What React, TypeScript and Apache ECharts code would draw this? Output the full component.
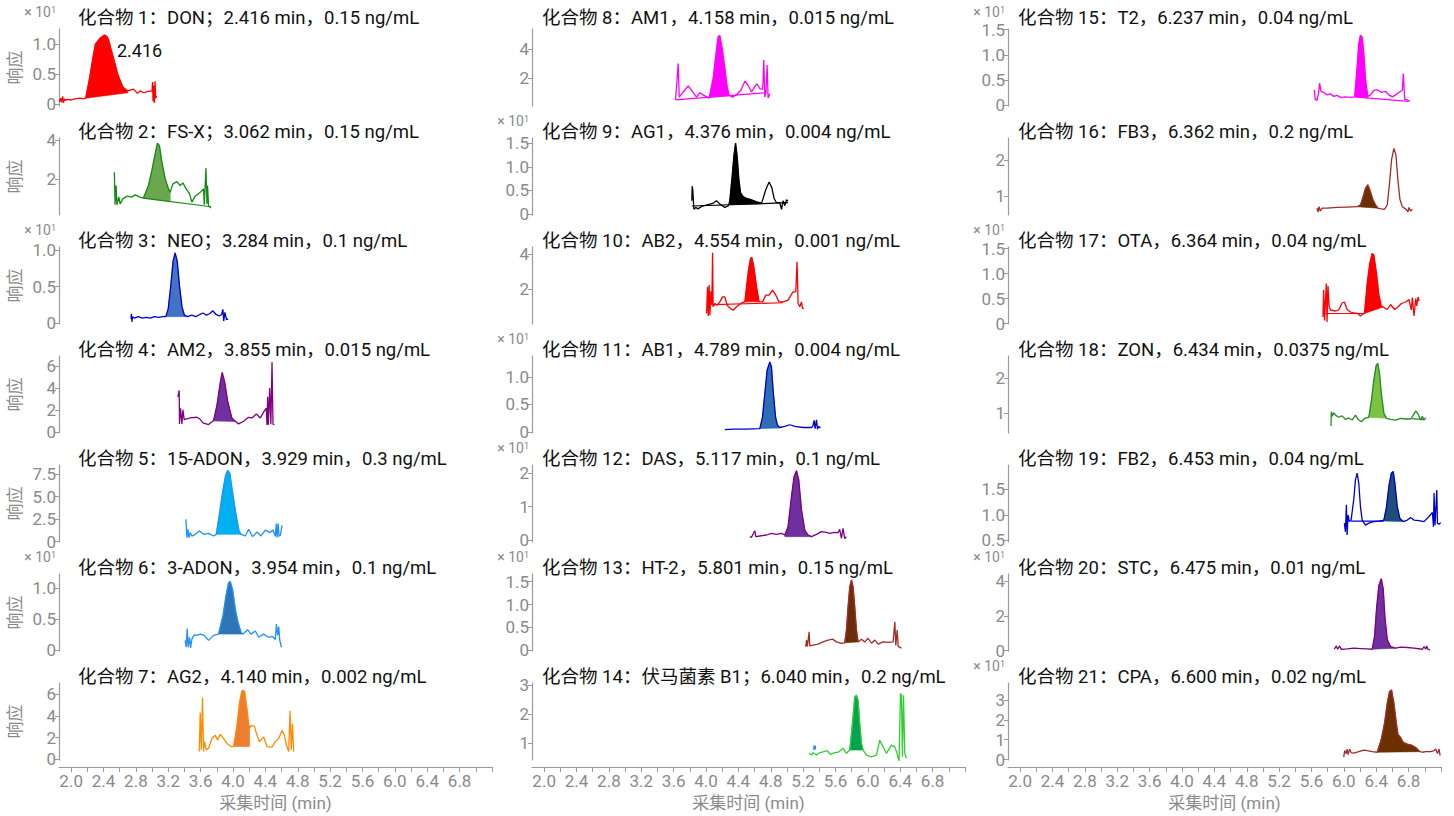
import { useEffect, useRef } from 'react';
import * as echarts from 'echarts';

type Pt = [number, number];

// ---------- traces (time in min, response as shown on each axis) ----------
const p1Trace: Pt[] = [[1.854,0.04],[1.87,0.10],[1.88,0.03],[1.895,0.13],[1.905,0.02],[1.915,0.09],[1.93,0.06],[1.95,0.08],[2.0,0.07],[2.05,0.09],[2.11,0.10],[2.15,0.09],[2.18,0.10],[2.23,0.45],[2.27,0.78],[2.30,1.00],[2.36,1.10],[2.41,1.15],[2.44,1.13],[2.46,1.08],[2.52,0.78],[2.58,0.48],[2.64,0.28],[2.70,0.22],[2.77,0.25],[2.82,0.18],[2.85,0.22],[2.90,0.19],[2.94,0.21],[3.00,0.22],[3.006,0.37],[3.012,0.05],[3.02,0.31],[3.028,0.02],[3.036,0.38],[3.045,0.10],[3.055,0.14]];
const p2Trace: Pt[] = [[2.534,2.35],[2.543,0.65],[2.556,1.65],[2.566,0.65],[2.589,1.06],[2.605,0.70],[2.638,0.96],[2.688,1.10],[2.75,1.05],[2.79,1.17],[2.85,1.05],[2.893,1.0],[2.955,1.65],[2.997,2.43],[3.038,3.30],[3.067,3.86],[3.091,3.73],[3.121,2.87],[3.162,2.0],[3.203,1.48],[3.224,1.30],[3.257,1.74],[3.307,1.86],[3.347,1.65],[3.381,1.79],[3.422,1.48],[3.463,1.22],[3.492,0.79],[3.533,1.10],[3.595,1.30],[3.636,1.48],[3.645,0.65],[3.666,2.56],[3.678,0.70],[3.685,1.65],[3.698,0.60],[3.727,0.49]];
const p3Trace: Pt[] = [[2.74,0.06],[2.745,0.13],[2.752,0.02],[2.76,0.09],[2.78,0.07],[2.83,0.09],[2.88,0.07],[2.93,0.08],[2.98,0.07],[3.03,0.09],[3.08,0.08],[3.13,0.09],[3.17,0.09],[3.20,0.2],[3.23,0.5],[3.26,0.85],[3.285,0.96],[3.31,0.85],[3.34,0.5],[3.37,0.22],[3.40,0.11],[3.44,0.09],[3.49,0.11],[3.54,0.09],[3.59,0.12],[3.63,0.14],[3.67,0.11],[3.71,0.13],[3.75,0.17],[3.79,0.12],[3.83,0.10],[3.86,0.12],[3.875,0.19],[3.885,0.03],[3.90,0.15],[3.92,0.05],[3.94,0.06]];
const p4Trace: Pt[] = [[3.319,3.19],[3.335,3.77],[3.339,0.73],[3.351,2.15],[3.369,0.73],[3.381,2.0],[3.397,1.12],[3.471,1.27],[3.554,1.33],[3.586,1.20],[3.628,0.82],[3.698,0.67],[3.76,1.03],[3.802,2.44],[3.843,4.50],[3.866,5.40],[3.898,4.50],[3.935,2.74],[3.985,1.27],[4.028,0.97],[4.069,0.73],[4.131,0.97],[4.193,1.33],[4.235,1.27],[4.288,1.62],[4.338,1.27],[4.387,1.91],[4.412,2.15],[4.42,0.62],[4.428,3.19],[4.437,0.65],[4.453,3.98],[4.468,0.70],[4.482,6.34],[4.494,0.70],[4.511,0.67]];
const p5Trace: Pt[] = [[3.418,2.46],[3.43,0.44],[3.443,1.36],[3.455,0.44],[3.471,0.99],[3.492,0.60],[3.533,0.80],[3.583,1.17],[3.636,0.80],[3.698,0.91],[3.76,0.62],[3.793,0.80],[3.835,3.2],[3.87,5.4],[3.91,7.42],[3.935,7.9],[3.96,7.6],[3.995,5.4],[4.04,2.82],[4.075,1.17],[4.099,0.80],[4.152,0.62],[4.193,1.36],[4.242,0.55],[4.297,1.06],[4.346,0.62],[4.40,1.28],[4.452,0.99],[4.494,1.28],[4.523,0.58],[4.535,2.0],[4.544,0.44],[4.557,2.0],[4.569,0.58],[4.585,0.7],[4.606,1.8]];
const p6Trace: Pt[] = [[3.409,0.16],[3.422,0.05],[3.434,0.35],[3.446,0.05],[3.463,0.21],[3.475,0.04],[3.492,0.18],[3.521,0.25],[3.554,0.24],[3.595,0.26],[3.645,0.24],[3.698,0.16],[3.76,0.24],[3.821,0.26],[3.876,0.55],[3.913,0.87],[3.945,1.08],[3.966,1.10],[3.995,0.97],[4.028,0.66],[4.061,0.45],[4.099,0.29],[4.123,0.26],[4.18,0.33],[4.222,0.26],[4.276,0.31],[4.317,0.21],[4.379,0.26],[4.44,0.21],[4.494,0.22],[4.523,0.17],[4.536,0.42],[4.552,0.24],[4.565,0.38],[4.577,0.17],[4.598,0.05]];
const p7Trace: Pt[] = [[3.583,0.73],[3.595,4.30],[3.608,0.90],[3.623,5.64],[3.636,0.73],[3.648,1.63],[3.669,0.88],[3.698,1.03],[3.74,1.92],[3.781,2.21],[3.809,1.77],[3.843,2.30],[3.883,1.92],[3.925,1.47],[3.975,1.18],[4.007,1.18],[4.049,3.10],[4.081,5.20],[4.111,6.32],[4.143,6.23],[4.173,4.60],[4.193,3.2],[4.21,2.9],[4.222,3.10],[4.263,3.05],[4.297,2.21],[4.329,1.63],[4.379,2.07],[4.42,1.18],[4.482,1.12],[4.523,1.63],[4.564,1.92],[4.606,2.66],[4.635,2.21],[4.659,1.32],[4.688,0.73],[4.705,4.45],[4.72,0.90],[4.734,3.26],[4.75,0.73]];
const p8Trace: Pt[] = [[3.624,0.48],[3.656,3.0],[3.669,0.67],[3.718,1.02],[3.78,1.44],[3.822,1.14],[3.883,0.67],[3.924,0.97],[3.973,0.79],[4.039,0.60],[4.088,1.95],[4.122,3.59],[4.15,4.88],[4.171,4.95],[4.199,4.06],[4.233,2.65],[4.261,1.37],[4.286,0.79],[4.328,0.67],[4.377,0.83],[4.43,1.14],[4.48,1.77],[4.52,1.49],[4.562,1.02],[4.591,1.30],[4.631,1.60],[4.665,1.25],[4.698,1.20],[4.706,1.84],[4.714,3.24],[4.727,0.67],[4.74,1.0],[4.755,2.89],[4.767,0.60],[4.788,0.90]];
const p9Trace: Pt[] = [[3.825,0.28],[3.829,0.59],[3.837,0.50],[3.85,0.10],[3.875,0.14],[3.90,0.11],[3.945,0.16],[4.048,0.21],[4.088,0.23],[4.13,0.28],[4.171,0.21],[4.233,0.14],[4.274,0.17],[4.294,0.28],[4.323,0.80],[4.344,1.22],[4.365,1.50],[4.385,1.22],[4.406,0.73],[4.427,0.45],[4.459,0.37],[4.501,0.33],[4.562,0.30],[4.624,0.26],[4.686,0.23],[4.705,0.33],[4.739,0.52],[4.78,0.68],[4.813,0.56],[4.841,0.33],[4.871,0.24],[4.912,0.24],[4.933,0.10],[4.952,0.28],[4.973,0.18],[4.994,0.30],[5.014,0.28]];
const p10Trace: Pt[] = [[4.007,0.64],[4.019,2.15],[4.028,0.50],[4.039,2.25],[4.048,0.55],[4.06,1.9],[4.072,1.11],[4.081,4.07],[4.088,1.02],[4.109,1.21],[4.138,1.11],[4.171,1.30],[4.204,1.58],[4.233,1.58],[4.261,1.11],[4.303,0.92],[4.335,0.83],[4.377,1.02],[4.439,1.24],[4.48,1.30],[4.501,2.15],[4.525,3.09],[4.55,3.76],[4.566,3.81],[4.591,3.28],[4.624,2.15],[4.656,1.30],[4.698,1.30],[4.739,1.68],[4.78,1.68],[4.822,1.96],[4.862,1.68],[4.903,1.30],[4.952,1.30],[5.014,1.40],[5.076,1.87],[5.109,1.87],[5.125,3.56],[5.138,1.21],[5.159,1.02],[5.18,1.3],[5.191,0.95],[5.208,0.92]];
const p11Trace: Pt[] = [[4.233,0.04],[4.335,0.05],[4.501,0.05],[4.665,0.06],[4.698,0.27],[4.727,0.70],[4.755,1.12],[4.788,1.27],[4.809,1.18],[4.829,0.76],[4.859,0.27],[4.883,0.12],[4.912,0.08],[4.974,0.10],[5.035,0.13],[5.097,0.10],[5.2,0.08],[5.303,0.08],[5.319,0.10],[5.336,0.21],[5.348,0.06],[5.365,0.22],[5.377,0.05],[5.393,0.10],[5.414,0.07]];
const p12Trace: Pt[] = [[4.541,0.10],[4.562,0.08],[4.603,0.28],[4.615,0.10],[4.665,0.12],[4.748,0.15],[4.809,0.20],[4.871,0.17],[4.933,0.20],[4.974,0.15],[5.014,0.40],[5.056,1.30],[5.088,1.90],[5.118,2.08],[5.146,1.80],[5.18,0.90],[5.22,0.30],[5.261,0.15],[5.303,0.10],[5.365,0.17],[5.427,0.25],[5.488,0.23],[5.529,0.20],[5.591,0.23],[5.632,0.22],[5.652,0.32],[5.673,0.05],[5.693,0.35],[5.714,0.04],[5.735,0.10]];
const p13Trace: Pt[] = [[5.233,0.07],[5.241,0.22],[5.253,0.08],[5.274,0.40],[5.282,0.09],[5.323,0.11],[5.385,0.13],[5.446,0.18],[5.508,0.22],[5.563,0.24],[5.612,0.18],[5.674,0.15],[5.714,0.16],[5.735,0.44],[5.755,0.95],[5.776,1.39],[5.797,1.54],[5.817,1.39],[5.838,0.95],[5.859,0.44],[5.879,0.18],[5.921,0.24],[5.962,0.18],[6.003,0.26],[6.045,0.15],[6.086,0.22],[6.127,0.13],[6.188,0.18],[6.25,0.17],[6.312,0.18],[6.333,0.62],[6.345,0.10],[6.362,0.44],[6.374,0.08],[6.386,0.07],[6.416,0.04]];
const p14Trace: Pt[] = [[5.273,0.66],[5.303,0.60],[5.323,0.68],[5.365,0.60],[5.406,0.68],[5.446,0.71],[5.496,0.75],[5.538,0.62],[5.591,0.68],[5.644,0.71],[5.693,0.83],[5.735,0.66],[5.776,0.77],[5.809,1.68],[5.838,2.60],[5.859,2.65],[5.879,2.48],[5.90,1.68],[5.921,1.0],[5.941,0.77],[5.982,0.60],[6.044,0.54],[6.106,0.60],[6.147,1.11],[6.188,0.88],[6.229,0.66],[6.291,0.94],[6.332,0.88],[6.361,0.66],[6.385,0.37],[6.403,2.71],[6.415,2.65],[6.427,0.54],[6.44,2.65],[6.456,0.66],[6.476,0.49]];
const p14Extra: Pt[] = [[5.338,0.78],[5.342,0.92],[5.346,0.80]];
const p15Trace: Pt[] = [[5.634,0.31],[5.646,0.12],[5.667,0.10],[5.688,0.25],[5.70,0.44],[5.717,0.28],[5.75,0.26],[5.792,0.21],[5.833,0.23],[5.874,0.18],[5.916,0.20],[5.957,0.16],[6.019,0.17],[6.081,0.16],[6.134,0.17],[6.164,0.77],[6.184,1.22],[6.205,1.39],[6.226,1.35],[6.246,1.03],[6.267,0.51],[6.295,0.18],[6.329,0.21],[6.37,0.30],[6.412,0.31],[6.462,0.26],[6.515,0.28],[6.556,0.21],[6.598,0.17],[6.639,0.21],[6.701,0.28],[6.722,0.30],[6.735,0.63],[6.751,0.12],[6.776,0.12],[6.792,0.10],[6.817,0.08]];
const p16Trace: Pt[] = [[5.668,0.66],[5.68,0.55],[5.693,0.70],[5.709,0.58],[5.73,0.66],[5.792,0.66],[5.916,0.68],[6.04,0.69],[6.164,0.70],[6.205,0.75],[6.238,0.98],[6.267,1.21],[6.295,1.31],[6.32,1.17],[6.357,0.91],[6.391,0.75],[6.42,0.66],[6.462,0.64],[6.503,0.63],[6.536,0.75],[6.564,1.35],[6.589,2.0],[6.618,2.32],[6.643,2.14],[6.668,1.44],[6.692,0.91],[6.722,0.70],[6.763,0.64],[6.792,0.56],[6.804,0.68],[6.825,0.58],[6.846,0.63]];
const p17Trace: Pt[] = [[5.742,0.13],[5.75,0.67],[5.762,0.06],[5.775,0.55],[5.783,0.80],[5.792,0.03],[5.804,0.75],[5.817,0.35],[5.833,0.27],[5.895,0.25],[5.936,0.27],[5.978,0.41],[6.006,0.43],[6.04,0.28],[6.081,0.23],[6.122,0.21],[6.172,0.20],[6.205,0.15],[6.255,0.21],[6.288,0.80],[6.32,1.20],[6.35,1.40],[6.37,1.37],[6.403,1.00],[6.432,0.57],[6.462,0.35],[6.486,0.33],[6.536,0.28],[6.577,0.38],[6.627,0.28],[6.668,0.33],[6.71,0.40],[6.763,0.43],[6.804,0.48],[6.834,0.27],[6.846,0.52],[6.867,0.15],[6.888,0.50],[6.90,0.35],[6.916,0.53],[6.929,0.45]];
const p18Trace: Pt[] = [[5.841,0.64],[5.845,1.05],[5.857,0.92],[5.874,1.02],[5.895,0.95],[5.936,0.89],[5.978,0.93],[6.019,0.83],[6.06,0.87],[6.102,0.81],[6.143,0.95],[6.184,0.81],[6.217,0.76],[6.258,0.86],[6.308,0.89],[6.341,1.38],[6.37,1.95],[6.40,2.38],[6.419,2.43],[6.44,2.14],[6.465,1.52],[6.494,1.0],[6.527,0.86],[6.577,0.83],[6.639,0.81],[6.701,0.86],[6.763,0.84],[6.825,0.84],[6.858,0.95],[6.887,1.07],[6.916,0.98],[6.949,0.81],[6.97,0.92],[6.99,0.81],[7.011,0.88]];
const p19Trace: Pt[] = [[6.006,0.84],[6.019,0.67],[6.031,1.20],[6.04,0.61],[6.052,1.0],[6.068,0.87],[6.089,0.90],[6.122,1.30],[6.143,1.69],[6.164,1.82],[6.184,1.62],[6.205,1.16],[6.226,0.90],[6.267,0.80],[6.308,0.84],[6.37,0.87],[6.432,0.88],[6.494,0.90],[6.527,1.16],[6.556,1.56],[6.586,1.82],[6.61,1.85],[6.63,1.62],[6.66,1.16],[6.692,0.93],[6.735,0.87],[6.784,0.90],[6.825,0.95],[6.866,0.90],[6.928,0.89],[6.99,0.87],[7.052,0.97],[7.094,1.05],[7.107,0.77],[7.114,1.43],[7.126,0.80],[7.148,1.49],[7.156,0.84],[7.176,0.82],[7.197,0.85]];
const p20Trace: Pt[] = [[5.882,0.08],[5.907,0.27],[5.923,0.08],[5.948,0.27],[5.966,0.08],[6.04,0.10],[6.122,0.14],[6.205,0.12],[6.288,0.10],[6.35,0.08],[6.379,0.82],[6.403,2.38],[6.432,3.74],[6.462,4.13],[6.486,3.55],[6.506,1.99],[6.536,0.63],[6.577,0.23],[6.639,0.14],[6.701,0.20],[6.784,0.18],[6.866,0.14],[6.97,0.08],[6.99,0.23],[7.011,0.08],[7.023,0.27],[7.039,0.08],[7.064,0.04]];
const p21Trace: Pt[] = [[5.998,0.12],[6.01,0.45],[6.028,0.30],[6.04,0.53],[6.052,0.25],[6.072,0.53],[6.089,0.35],[6.122,0.32],[6.184,0.40],[6.246,0.48],[6.288,0.45],[6.35,0.40],[6.412,0.37],[6.462,1.02],[6.503,1.85],[6.536,2.84],[6.564,3.42],[6.589,3.50],[6.618,2.84],[6.648,1.85],[6.668,1.27],[6.701,1.11],[6.735,0.86],[6.784,0.78],[6.834,0.73],[6.887,0.61],[6.941,0.40],[6.97,0.37],[7.011,0.40],[7.073,0.40],[7.114,0.45],[7.135,0.53],[7.156,0.30],[7.176,0.53],[7.189,0.20]];

const traces: Pt[][] = [p1Trace,p2Trace,p3Trace,p4Trace,p5Trace,p6Trace,p7Trace,p8Trace,p9Trace,p10Trace,p11Trace,p12Trace,p13Trace,p14Trace,p15Trace,p16Trace,p17Trace,p18Trace,p19Trace,p20Trace,p21Trace];

// integrated peak: [start, end, baseline at start, baseline at end]
const peakFills: [number, number, number, number][] = [
  [2.18,2.70,0.10,0.19],[2.893,3.224,1.0,0.82],[3.17,3.42,0.09,0.09],[3.76,4.028,1.0,0.95],[3.80,4.10,0.8,0.8],[3.821,4.123,0.26,0.26],[4.007,4.205,1.18,1.18],
  [4.039,4.286,0.66,0.77],[4.294,4.686,0.2,0.22],[4.48,4.656,1.3,1.3],[4.665,4.912,0.06,0.07],[4.974,5.303,0.1,0.1],[5.714,5.879,0.16,0.18],[5.776,5.941,0.77,0.77],
  [6.134,6.295,0.17,0.15],[6.164,6.42,0.70,0.66],[6.255,6.486,0.2,0.33],[6.308,6.527,0.89,0.86],[6.494,6.735,0.88,0.87],[6.35,6.639,0.08,0.14],[6.412,6.941,0.37,0.40],
];

// drawn baselines (panel index, two end points)
const baseLines: [number, Pt, Pt][] = [
  [1,[2.893,1.0],[3.727,0.55]],
  [7,[3.624,0.48],[4.727,0.97]],
  [8,[3.825,0.17],[5.014,0.24]],
  [9,[4.088,1.15],[4.952,1.25]],
  [14,[6.134,0.17],[6.792,0.08]],
  [16,[5.76,0.2],[6.255,0.2]],
  [17,[6.84,0.85],[6.99,0.82]],
  [18,[6.089,0.88],[6.494,0.88]],
];

const titles = [
  '化合物 1：DON；2.416 min，0.15 ng/mL','化合物 2：FS-X；3.062 min，0.15 ng/mL','化合物 3：NEO；3.284 min，0.1 ng/mL','化合物 4：AM2，3.855 min，0.015 ng/mL','化合物 5：15-ADON，3.929 min，0.3 ng/mL','化合物 6：3-ADON，3.954 min，0.1 ng/mL','化合物 7：AG2，4.140 min，0.002 ng/mL',
  '化合物 8：AM1，4.158 min，0.015 ng/mL','化合物 9：AG1，4.376 min，0.004 ng/mL','化合物 10：AB2，4.554 min，0.001 ng/mL','化合物 11：AB1，4.789 min，0.004 ng/mL','化合物 12：DAS，5.117 min，0.1 ng/mL','化合物 13：HT-2，5.801 min，0.15 ng/mL','化合物 14：伏马菌素 B1；6.040 min，0.2 ng/mL',
  '化合物 15：T2，6.237 min，0.04 ng/mL','化合物 16：FB3，6.362 min，0.2 ng/mL','化合物 17：OTA，6.364 min，0.04 ng/mL','化合物 18：ZON，6.434 min，0.0375 ng/mL','化合物 19：FB2，6.453 min，0.04 ng/mL','化合物 20：STC，6.475 min，0.01 ng/mL','化合物 21：CPA，6.600 min，0.02 ng/mL',
];

const yMins = [-0.03,0.12,-0.01,-0.1,-0.05,-0.01,-0.05, 0.05,-0.02,0.05,-0.02,-0.06,-0.02,0.43, -0.01,0.47,-0.01,0.44,0.47,-0.02,-0.02];
const yMaxs = [1.25,4.13,1.04,6.9,8.5,1.22,7.0, 5.4,1.61,4.4,1.38,2.25,1.67,3.07, 1.51,2.61,1.53,2.64,1.98,4.4,3.85];
const yTicks: string[][] = [
  ['0','0.5','1.0'],['2','4'],['0','0.5','1.0'],['0','2','4','6'],['0','2.5','5.0','7.5'],['0','0.5','1.0'],['0','2','4','6'],
  ['2','4'],['0','0.5','1.0','1.5'],['2','4'],['0','0.5','1.0'],['0','1','2'],['0','0.5','1.0','1.5'],['1','2','3'],
  ['0','0.5','1.0','1.5'],['1','2'],['0','0.5','1.0','1.5'],['1','2'],['0.5','1.0','1.5'],['0','2','4'],['0','1','2','3'],
];
const times10 = [true,false,true,false,false,true,false, false,true,false,true,true,true,false, true,false,true,false,false,true,true];

const lineColors = ['#ff0000','#138a13','#0000cd','#800080','#1e90ff','#1e90ff','#ff8c00','#ff00ff','#000000','#ff0000','#0000cd','#800080','#a52a2a','#32cd32','#ff00ff','#a52a2a','#ff0000','#228b22','#0000cd','#800080','#a52a2a'];
const fillColors = ['#ff0000','#6aa84f','#4472c4','#7030a0','#00b0f0','#2e75b6','#ed7d31','#ff00ff','#000000','#ff0000','#2e6db4','#7030a0','#6b2c0a','#00a550','#ff00ff','#6b3000','#ff0000','#7cc242','#1f4e79','#7030a0','#6b3000'];

const xTickValues = [2.0,2.2,2.4,2.6,2.8,3.0,3.2,3.4,3.6,3.8,4.0,4.2,4.4,4.6,4.8,5.0,5.2,5.4,5.6,5.8,6.0,6.2,6.4,6.6,6.8,7.0,7.2];
const xLabelValues = [2.0,2.4,2.8,3.2,3.6,4.0,4.4,4.8,5.2,5.6,6.0,6.4,6.8];

const FONT = 'Roboto, "Noto Sans CJK SC", sans-serif';
const AXIS_COLOR = '#9a9a9a';
const LABEL_COLOR = '#8a8a8a';
const COL_LEFT = [59, 532, 1008];
const GRID_W = 433, GRID_H = 77, ROW0 = 29, ROW_H = 109;
const TITLE_Y = [18, 132, 241, 350, 459, 568, 677];

function interp(tr: Pt[], t: number): number {
  for (let k = 0; k < tr.length - 1; k++) {
    const a = tr[k], b = tr[k + 1];
    if (t >= a[0] && t <= b[0]) {
      const f = b[0] === a[0] ? 0 : (t - a[0]) / (b[0] - a[0]);
      return a[1] + f * (b[1] - a[1]);
    }
  }
  return tr[tr.length - 1][1];
}

function buildOption() {
  const grid: any[] = [], xAxis: any[] = [], yAxis: any[] = [], series: any[] = [], graphic: any[] = [];
  for (let i = 0; i < 21; i++) {
    const c = Math.floor(i / 7), r = i % 7;
    const left = COL_LEFT[c], top = ROW0 + ROW_H * r;
    const bottomRow = r === 6;
    grid.push({ left, top, width: GRID_W, height: GRID_H, containLabel: false });
    xAxis.push({
      type: 'value', gridIndex: i, min: 1.85, max: 7.2, show: bottomRow, offset: 7,
      axisLine: { show: true, onZero: false, lineStyle: { color: AXIS_COLOR, width: 1.2 } },
      axisTick: { show: true, length: 5, customValues: xTickValues, lineStyle: { color: AXIS_COLOR } },
      axisLabel: { customValues: xLabelValues, formatter: (v: number) => v.toFixed(1), color: LABEL_COLOR, fontSize: 17, fontFamily: FONT, margin: 5 },
      splitLine: { show: false },
      name: bottomRow ? '采集时间 (min)' : '', nameLocation: 'middle', nameGap: 27,
      nameTextStyle: { color: LABEL_COLOR, fontSize: 17, fontFamily: FONT },
    });
    const ticks = yTicks[i];
    const vals = ticks.map(Number);
    yAxis.push({
      type: 'value', gridIndex: i, min: yMins[i], max: yMaxs[i],
      axisLine: { show: true, onZero: false, lineStyle: { color: AXIS_COLOR, width: 1.2 } },
      axisTick: { show: true, length: 4, customValues: vals, lineStyle: { color: AXIS_COLOR } },
      axisLabel: {
        customValues: vals, color: LABEL_COLOR, fontSize: 17, fontFamily: FONT, margin: 3,
        formatter: (v: number) => { const k = vals.findIndex((x) => Math.abs(x - v) < 1e-6); return k >= 0 ? ticks[k] : ''; },
      },
      splitLine: { show: false },
    });
    const tr = traces[i];
    const [a, b, va, vb] = peakFills[i];
    const poly: Pt[] = [[a, interp(tr, a)]];
    tr.forEach((p) => { if (p[0] > a && p[0] < b) poly.push(p); });
    poly.push([b, interp(tr, b)], [b, vb], [a, va]);
    const fc = fillColors[i];
    series.push({
      type: 'custom', coordinateSystem: 'cartesian2d', xAxisIndex: i, yAxisIndex: i, silent: true, z: 2,
      data: [[a, va]],
      renderItem: (_p: any, api: any) => ({
        type: 'polygon',
        shape: { points: poly.map((pt) => api.coord(pt)) },
        style: { fill: fc, stroke: fc, lineWidth: 0.6 },
      }),
    });
    series.push({
      type: 'line', xAxisIndex: i, yAxisIndex: i, data: tr, showSymbol: false, symbol: 'none', silent: true, z: 3,
      lineStyle: { color: lineColors[i], width: 1.3 }, itemStyle: { color: lineColors[i] },
    });
    baseLines.filter((bl) => bl[0] === i).forEach((bl) => {
      series.push({
        type: 'line', xAxisIndex: i, yAxisIndex: i, data: [bl[1], bl[2]], showSymbol: false, symbol: 'none', silent: true, z: 3,
        lineStyle: { color: lineColors[i], width: 1.2 },
      });
    });
    if (i === 13) {
      series.push({
        type: 'line', xAxisIndex: i, yAxisIndex: i, data: p14Extra, showSymbol: false, symbol: 'none', silent: true, z: 4,
        lineStyle: { color: '#1e90ff', width: 2.5 },
      });
    }
    graphic.push({
      type: 'text', x: c === 0 ? 78 : left + 10, y: TITLE_Y[r], silent: true,
      style: { text: titles[i], fill: '#111', fontSize: 18.5, fontFamily: FONT, align: 'left', verticalAlign: 'middle' },
    });
    if (times10[i]) {
      graphic.push({
        type: 'text', x: left - 3, y: top - 17, silent: true,
        style: {
          text: '× 10{s|1}', fill: LABEL_COLOR, fontSize: 14, fontFamily: FONT, align: 'right', verticalAlign: 'middle',
          rich: { s: { fontSize: 9, verticalAlign: 'top', fill: LABEL_COLOR, fontFamily: FONT } },
        },
      });
    }
    if (c === 0) {
      graphic.push({
        type: 'text', x: 15, y: top + GRID_H / 2, rotation: Math.PI / 2, silent: true,
        style: { text: '响应', fill: LABEL_COLOR, fontSize: 17, fontFamily: FONT, align: 'center', verticalAlign: 'middle' },
      });
    }
  }
  graphic.push({
    type: 'text', x: 117, y: 50, silent: true,
    style: { text: '2.416', fill: '#111', fontSize: 18, fontFamily: FONT, align: 'left', verticalAlign: 'middle' },
  });
  return { animation: false, backgroundColor: '#ffffff', grid, xAxis, yAxis, series, graphic };
}

export default function App() {
  const ref = useRef<HTMLDivElement>(null);
  useEffect(() => {
    if (!ref.current) return;
    const chart = echarts.init(ref.current, undefined, { renderer: 'svg' });
    chart.setOption(buildOption() as any);
    return () => chart.dispose();
  }, []);
  return <div ref={ref} style={{ position: 'absolute', left: 0, top: 0, width: 1454, height: 816 }} />;
}
